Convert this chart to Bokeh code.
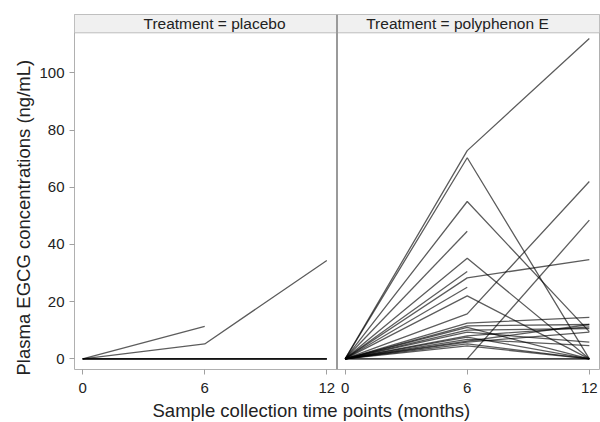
import math
from bokeh.plotting import figure
from bokeh.models import Range1d, FixedTicker, Span, Title, ColumnDataSource
from bokeh.embed import file_html
from bokeh.resources import INLINE
from bokeh.core.properties import value

nan = float("nan")

# ---------------- data ----------------
MONTHS = [0, 6, 12]
PANELS = ["placebo", "polyphenon E"]

# placebo subjects: values at month 0, 6, 12
placebo_m0 = [0, 0, 0, 0, 0, 0]
placebo_m6 = [11.3, 5.2, 0, 0, 0, 0]
placebo_m12 = [nan, 34.4, 0, 0, 0, 0]

# polyphenon E subjects: values at month 0, 6, 12
pe_m0 = [0, 0, 0, 0, 0, 0, 0, 0, 0, 0, nan, 0, 0, 0, 0, 0, 0, 0, 0, 0, 0, 0, 0, 0, 0]
pe_m6 = [72.8, 70.3, 55.0, 44.6, 35.2, 30.5, 28.3, 25.0, 22.0, 15.7, 0, 12.5, 11.5,
         11.0, 10.0, 9.3, 8.0, 7.6, 6.8, 6.2, 5.8, 5.2, 4.5, 0, 0]
pe_m12 = [112.0, 0, 9.5, nan, 0, nan, 34.7, nan, 0, 62.0, 48.5, 14.5, 12.0,
          0, 10.6, 5.8, 11.2, 0, 4.6, 12.0, 9.3, 0, 0, 0, 0]

Y_TICKS = [0, 20, 40, 60, 80, 100]
X_TITLE = "Sample collection time points (months)"
Y_TITLE = "Plasma EGCG concentrations (ng/mL)"
STRIP_PREFIX = "Treatment = "

# ---------------- layout constants ----------------
PAD_L, PAD_R = 0.4, 0.5
PANEL_W = MONTHS[-1] + PAD_L + PAD_R
Y_LO, Y_HI, STRIP_TOP = -3.74, 114.0, 120.4
STRIP_TEXT_SHIFT = [0.48, -0.48]
FONT = "Liberation Sans"
TXT = "#222222"
FRAME = "#b0b0b0"

p = figure(width=600, height=422, output_backend="svg", toolbar_location=None,
           x_range=Range1d(-PAD_L, 2 * PANEL_W - PAD_L),
           y_range=Range1d(Y_LO, STRIP_TOP),
           min_border_left=74, min_border_right=1, min_border_top=14, min_border_bottom=53)
p.background_fill_color = "white"
p.border_fill_color = "white"
p.outline_line_color = FRAME
p.outline_line_width = 1
p.xgrid.visible = False
p.ygrid.visible = False

arms = [(placebo_m0, placebo_m6, placebo_m12), (pe_m0, pe_m6, pe_m12)]
for i, (a0, a6, a12) in enumerate(arms):
    off = i * PANEL_W
    xs, ys = [], []
    for v in zip(a0, a6, a12):
        xs.append([m + off for m in MONTHS])
        ys.append(list(v))
    p.multi_line(xs=xs, ys=ys, line_color="black", line_alpha=0.64, line_width=1.3)

# facet strips
strip_src = ColumnDataSource(dict(
    left=[i * PANEL_W - PAD_L for i in range(2)],
    right=[(i + 1) * PANEL_W - PAD_L for i in range(2)],
    bottom=[Y_HI] * 2, top=[STRIP_TOP] * 2,
    tx=[i * PANEL_W + MONTHS[-1] / 2 + STRIP_TEXT_SHIFT[i] for i in range(2)],
    ty=[(Y_HI + STRIP_TOP) / 2] * 2,
    label=[STRIP_PREFIX + name for name in PANELS],
))
p.quad(left="left", right="right", bottom="bottom", top="top", source=strip_src,
       fill_color="#f0f0f0", line_color="#bdbdbd", line_width=1)
p.text(x="tx", y="ty", text="label", source=strip_src, text_align="center",
       text_baseline="middle", text_font=value(FONT), text_font_size="15.5px",
       text_color=TXT)

# panel divider
p.add_layout(Span(location=PANEL_W - PAD_L, dimension="height", line_color="#9a9a9a",
                  line_width=2))

# axes
ticks = [m + i * PANEL_W for i in range(2) for m in MONTHS]
p.xaxis.ticker = FixedTicker(ticks=ticks)
p.xaxis.major_label_overrides = {t: str(m) for t, m in zip(ticks, MONTHS * 2)}
p.yaxis.ticker = FixedTicker(ticks=Y_TICKS)
for ax in (p.xaxis[0], p.yaxis[0]):
    ax.axis_line_color = None
    ax.major_tick_line_color = "#a0a0a0"
    ax.major_tick_out = 5
    ax.major_tick_in = 0
    ax.minor_tick_line_color = None
    ax.major_label_text_font = FONT
    ax.major_label_text_font_size = "15px"
    ax.major_label_text_color = TXT
p.xaxis.major_label_standoff = 8
p.yaxis.major_label_standoff = 5

xt = Title(text=X_TITLE, align="left", offset=78, text_font=FONT, text_font_size="18.5px",
           text_font_style="normal", text_color=TXT, standoff=4)
p.add_layout(xt, "below")
yt = Title(text=Y_TITLE, align="left", offset=-6, text_font=FONT, text_font_size="18.5px",
           text_font_style="normal", text_color=TXT, standoff=5)
p.add_layout(yt, "left")

open("out.html", "w").write(file_html(p, INLINE))
